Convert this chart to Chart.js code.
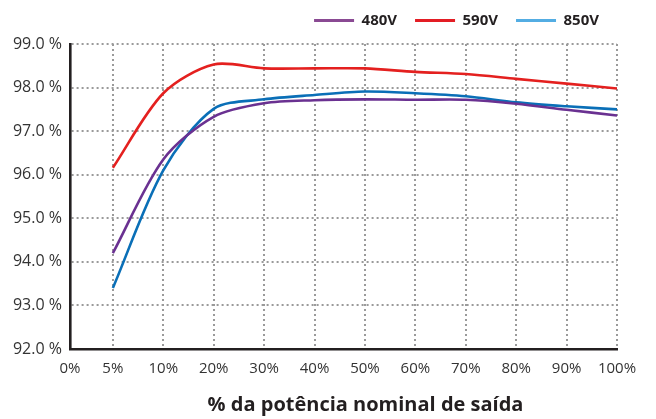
<!DOCTYPE html>
<html>
<head>
<meta charset="utf-8">
<script src="https://cdn.jsdelivr.net/npm/chart.js@4/dist/chart.umd.min.js"></script>
<style>
  html, body { margin: 0; padding: 0; background: #fff; }
  #wrap { width: 656px; height: 419px; }
</style>
</head>
<body>
<div id="wrap"><canvas id="effChart"></canvas></div>
<script>
// carga (eixo x) e eficiência por tensão
const xTickLabels = ["0%", "5%", "10%", "20%", "30%", "40%", "50%", "60%", "70%", "80%", "90%", "100%"];
const loads = ["5%", "10%", "20%", "30%", "40%", "50%", "60%", "70%", "80%", "90%", "100%"];
const eff480 = [94.2, 96.35, 97.33, 97.64, 97.71, 97.73, 97.72, 97.72, 97.63, 97.49, 97.36];
const eff590 = [96.16, 97.87, 98.53, 98.44, 98.44, 98.44, 98.36, 98.31, 98.2, 98.09, 97.98];
const eff850 = [93.4, 96.1, 97.51, 97.73, 97.83, 97.91, 97.87, 97.8, 97.66, 97.57, 97.5];
const seriesNames = ["480V", "590V", "850V"];
const lineColors = ["#6a3191", "#e4201f", "#0a6fb7"];
const legendColors = ["#8a4a93", "#e31d24", "#53ade3"];
const xTitle = "% da potência nominal de saída";
const xMin = 0.15; // o 0% fica um pouco antes do primeiro passo

const toPoints = (vals) => vals.map((v, i) => ({ x: xTickLabels.indexOf(loads[i]), y: v }));

const datasets = [eff480, eff590, eff850].map((vals, i) => ({
  label: seriesNames[i],
  data: toPoints(vals),
  borderColor: lineColors[i],
  backgroundColor: legendColors[i],
  borderWidth: 2.6,
  pointRadius: 0,
  tension: 0.3,
  fill: false,
}));

// a primeira linha de grade fica sob o eixo, que é contínuo
const gridOpts = () => ({
  display: true,
  color: (ctx) => (ctx.index === 0 ? "rgba(0,0,0,0)" : "#9a9a9a"),
  lineWidth: 2,
  drawTicks: false,
});
const borderOpts = () => ({ display: true, color: "#231f20", width: 2.6, dash: [2, 3] });

// mais espaço entre a legenda e o gráfico
const legendGap = {
  id: "legendGap",
  afterInit(chart) {
    const lg = chart.legend;
    const fit = lg.fit;
    lg.fit = function () {
      fit.call(this);
      this.height += 6;
    };
  },
};

// título do eixo x, um pouco deslocado para a direita como no original
const xTitlePlugin = {
  id: "xTitlePlugin",
  afterDraw(chart) {
    const { ctx, chartArea } = chart;
    ctx.save();
    ctx.font = "bold 20px 'Open Sans'";
    ctx.fillStyle = "#231f20";
    ctx.textAlign = "center";
    ctx.textBaseline = "middle";
    ctx.fillText(xTitle, (chartArea.left + chartArea.right) / 2 + 22, chart.height - 14);
    ctx.restore();
  },
};

new Chart(document.getElementById("effChart"), {
  type: "line",
  data: { datasets: datasets },
  plugins: [legendGap, xTitlePlugin],
  options: {
    responsive: true,
    maintainAspectRatio: false,
    animation: false,
    layout: { padding: { top: -5, right: 39, bottom: 0, left: 0 } },
    scales: {
      x: {
        type: "linear",
        min: xMin,
        max: 11,
        grid: gridOpts(),
        border: borderOpts(),
        afterBuildTicks: (scale) => {
          scale.ticks = xTickLabels.map((_, i) => ({ value: Math.max(i, xMin) }));
        },
        ticks: {
          autoSkip: false,
          maxRotation: 0,
          padding: 11,
          color: "#333",
          font: { family: "Open Sans", size: 15 },
          callback: (v) => xTickLabels[Math.round(v)],
        },
        afterFit: (scale) => { scale.height = 70; },
      },
      y: {
        min: 92,
        max: 99,
        grid: gridOpts(),
        border: borderOpts(),
        ticks: {
          stepSize: 1,
          padding: 8,
          color: "#333",
          font: { family: "Open Sans", size: 16 },
          callback: (v) => v.toFixed(1) + " %",
        },
        afterFit: (scale) => { scale.width = 70; },
      },
    },
    plugins: {
      tooltip: { enabled: false },
      legend: {
        position: "top",
        align: "end",
        labels: {
          boxWidth: 40,
          boxHeight: 3,
          padding: 18,
          color: "#231f20",
          font: { family: "Open Sans", size: 15, weight: "bold" },
          generateLabels: (chart) =>
            chart.data.datasets.map((ds, i) => ({
              text: ds.label,
              fillStyle: legendColors[i],
              strokeStyle: legendColors[i],
              lineWidth: 0,
              fontColor: "#231f20",
              datasetIndex: i,
            })),
        },
      },
    },
  },
});
</script>
</body>
</html>
